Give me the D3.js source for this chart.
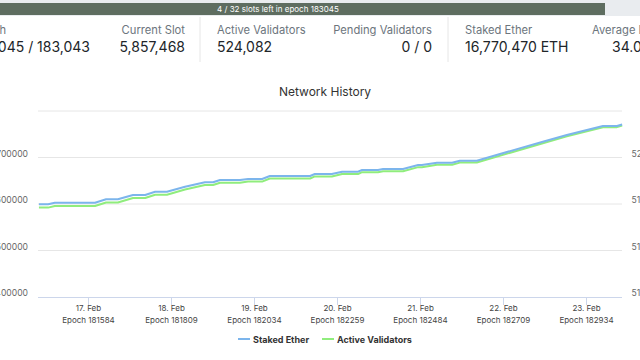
<!DOCTYPE html>
<html><head><meta charset="utf-8">
<script src="https://cdn.jsdelivr.net/npm/d3@7"></script>
<style>
html,body{margin:0;padding:0;background:#fff;overflow:hidden;}
svg{display:block;font-family:Inter,"Noto Sans",sans-serif;}
</style></head><body>
<svg id="c" width="640" height="360"></svg>
<script>
// ---- data ----
const epochs = [181451,181476,181494,181603,181633,181665,181706,181739,181766,181798,181847,181901,181923,181942,181996,182018,182056,182077,182186,182199,182245,182273,182316,182327,182370,182384,182438,182479,182489,182530,182571,182592,182638,182817,182882,182980,183018,183032];
const stakedEther = [16599400,16599400,16602800,16602800,16610100,16610100,16619400,16619400,16626500,16626500,16637200,16646700,16646700,16651600,16651600,16653800,16653800,16660200,16660200,16664500,16664500,16669500,16669500,16673100,16673100,16675300,16675300,16683900,16683900,16688800,16688800,16693100,16693100,16734000,16748400,16767700,16767700,16771000];
const activeValidators = [517690,517690,517830,517830,518130,518130,518510,518510,518800,518800,519240,519630,519630,519830,519830,519930,519930,520190,520190,520370,520370,520580,520580,520740,520740,520820,520820,521170,521170,521380,521380,521560,521570,523230,523820,524610,524610,524750];
const tickEpochs = [181584,181809,182034,182259,182484,182709,182934];
const tickDates = ["17. Feb","18. Feb","19. Feb","20. Feb","21. Feb","22. Feb","23. Feb"];
const leftTicks = [16400000,16500000,16600000,16700000];
const rightTicks = [510000,514000,518000,522000];
const seriesNames = ["Staked Ether","Active Validators"];
const seriesColors = ["#7cb5ec","#90ed7d"];
const stats = [
  {label:"Epoch", value:"183,045 / 183,043", lx:6, vx:90, anchor:"end", lanchor:"end"},
  {label:"Current Slot", value:"5,857,468", lx:185, vx:185, anchor:"end", lanchor:"end"},
  {label:"Active Validators", value:"524,082", lx:217, vx:217, anchor:"start", lanchor:"start"},
  {label:"Pending Validators", value:"0 / 0", lx:432, vx:432, anchor:"end", lanchor:"end"},
  {label:"Staked Ether", value:"16,770,470 ETH", lx:465, vx:465, anchor:"start", lanchor:"start"},
  {label:"Average Balance", value:"34.02 ETH", lx:592, vx:612, anchor:"start", lanchor:"start"}
];

const svg = d3.select("#c");

// ---- progress bar ----
svg.append("rect").attr("x",0).attr("y",0).attr("width",640).attr("height",16).attr("fill","#e9ecef");
svg.append("rect").attr("x",0).attr("y",3).attr("width",605).attr("height",12).attr("fill","#5e6d60");
svg.append("text").attr("x",278).attr("y",12).attr("text-anchor","middle")
  .attr("font-size",8).attr("fill","#ffffff").text("4 / 32 slots left in epoch 183045");

// ---- stats ----
[200,448].forEach(x=>svg.append("line").attr("x1",x).attr("x2",x).attr("y1",17).attr("y2",62).attr("stroke","#e6e6e6"));
stats.forEach(s=>{
  svg.append("text").attr("x",s.lx).attr("y",34).attr("text-anchor",s.lanchor)
    .attr("font-size",11.2).attr("fill","#6c757d").text(s.label);
  svg.append("text").attr("x",s.vx).attr("y",51.5).attr("text-anchor",s.anchor)
    .attr("font-size",14).attr("fill","#212529").text(s.value);
});

// ---- chart ----
const L=38, R=622, T=111, B=297;
const x = d3.scaleLinear().domain([181584,182934]).range([88,586]);
const yL = d3.scaleLinear().domain([16400000,16800000]).range([B,T]);
const yR = d3.scaleLinear().domain([510000,526000]).range([B,T]);

svg.append("text").attr("x",325).attr("y",96).attr("text-anchor","middle")
  .attr("font-size",12).attr("fill","#333333").text("Network History");

// grid
const gridVals = leftTicks.concat([16800000]);
svg.append("g").selectAll("line").data(gridVals.filter(v=>v!==16400000)).join("line")
  .attr("x1",L).attr("x2",R).attr("y1",d=>yL(d)).attr("y2",d=>yL(d))
  .attr("stroke","#e6e6e6").attr("stroke-width",1);

// x axis
const xAxis = d3.axisBottom(x).tickValues(tickEpochs).tickSize(8).tickFormat(()=> "");
const gx = svg.append("g").attr("transform",`translate(0,${B})`).call(xAxis);
gx.select(".domain").attr("d",`M${L},0.5H${R}`).attr("stroke","#ccd6eb");
gx.selectAll(".tick line").attr("stroke","#ccd6eb");
gx.selectAll(".tick").each(function(d,i){
  const t=d3.select(this).select("text").attr("y",0).attr("fill","#444").attr("font-size",8).attr("font-family","Inter,sans-serif");
  t.append("tspan").attr("x",0).attr("dy","14").text(tickDates[i]);
  t.append("tspan").attr("x",0).attr("dy","11.5").text("Epoch "+tickEpochs[i]);
});

// left axis labels
const gl = svg.append("g").attr("transform",`translate(28,0)`)
  .call(d3.axisLeft(yL).tickValues(leftTicks).tickSize(0).tickPadding(0).tickFormat(d3.format("d")));
gl.select(".domain").remove();
gl.selectAll("text").attr("font-size",8.6).attr("fill","#666").attr("dy","-0.15em").attr("font-family","Inter,sans-serif");

// right axis labels
const gr = svg.append("g").attr("transform",`translate(631.5,0)`)
  .call(d3.axisRight(yR).tickValues(rightTicks).tickSize(0).tickPadding(0).tickFormat(d3.format("d")));
gr.select(".domain").remove();
gr.selectAll("text").attr("font-size",8.6).attr("fill","#666").attr("dy","-0.15em").attr("font-family","Inter,sans-serif");

// lines
const lineL = d3.line().x((d,i)=>x(epochs[i])).y(d=>yL(d));
const lineR = d3.line().x((d,i)=>x(epochs[i])).y(d=>yR(d));
svg.append("path").datum(activeValidators).attr("d",lineR).attr("fill","none")
  .attr("stroke",seriesColors[1]).attr("stroke-width",2).attr("stroke-linejoin","round");
svg.append("path").datum(stakedEther).attr("d",lineL).attr("fill","none")
  .attr("stroke",seriesColors[0]).attr("stroke-width",2).attr("stroke-linejoin","round");

// legend
const lg = [{x:238,tx:253},{x:322,tx:337}];
seriesNames.forEach((n,i)=>{
  svg.append("line").attr("x1",lg[i].x).attr("x2",lg[i].x+12).attr("y1",339).attr("y2",339)
    .attr("stroke",seriesColors[i]).attr("stroke-width",2);
  svg.append("text").attr("x",lg[i].tx).attr("y",342.5).attr("font-size",9).attr("font-weight","bold")
    .attr("fill","#333333").text(n);
});
</script>
</body></html>
